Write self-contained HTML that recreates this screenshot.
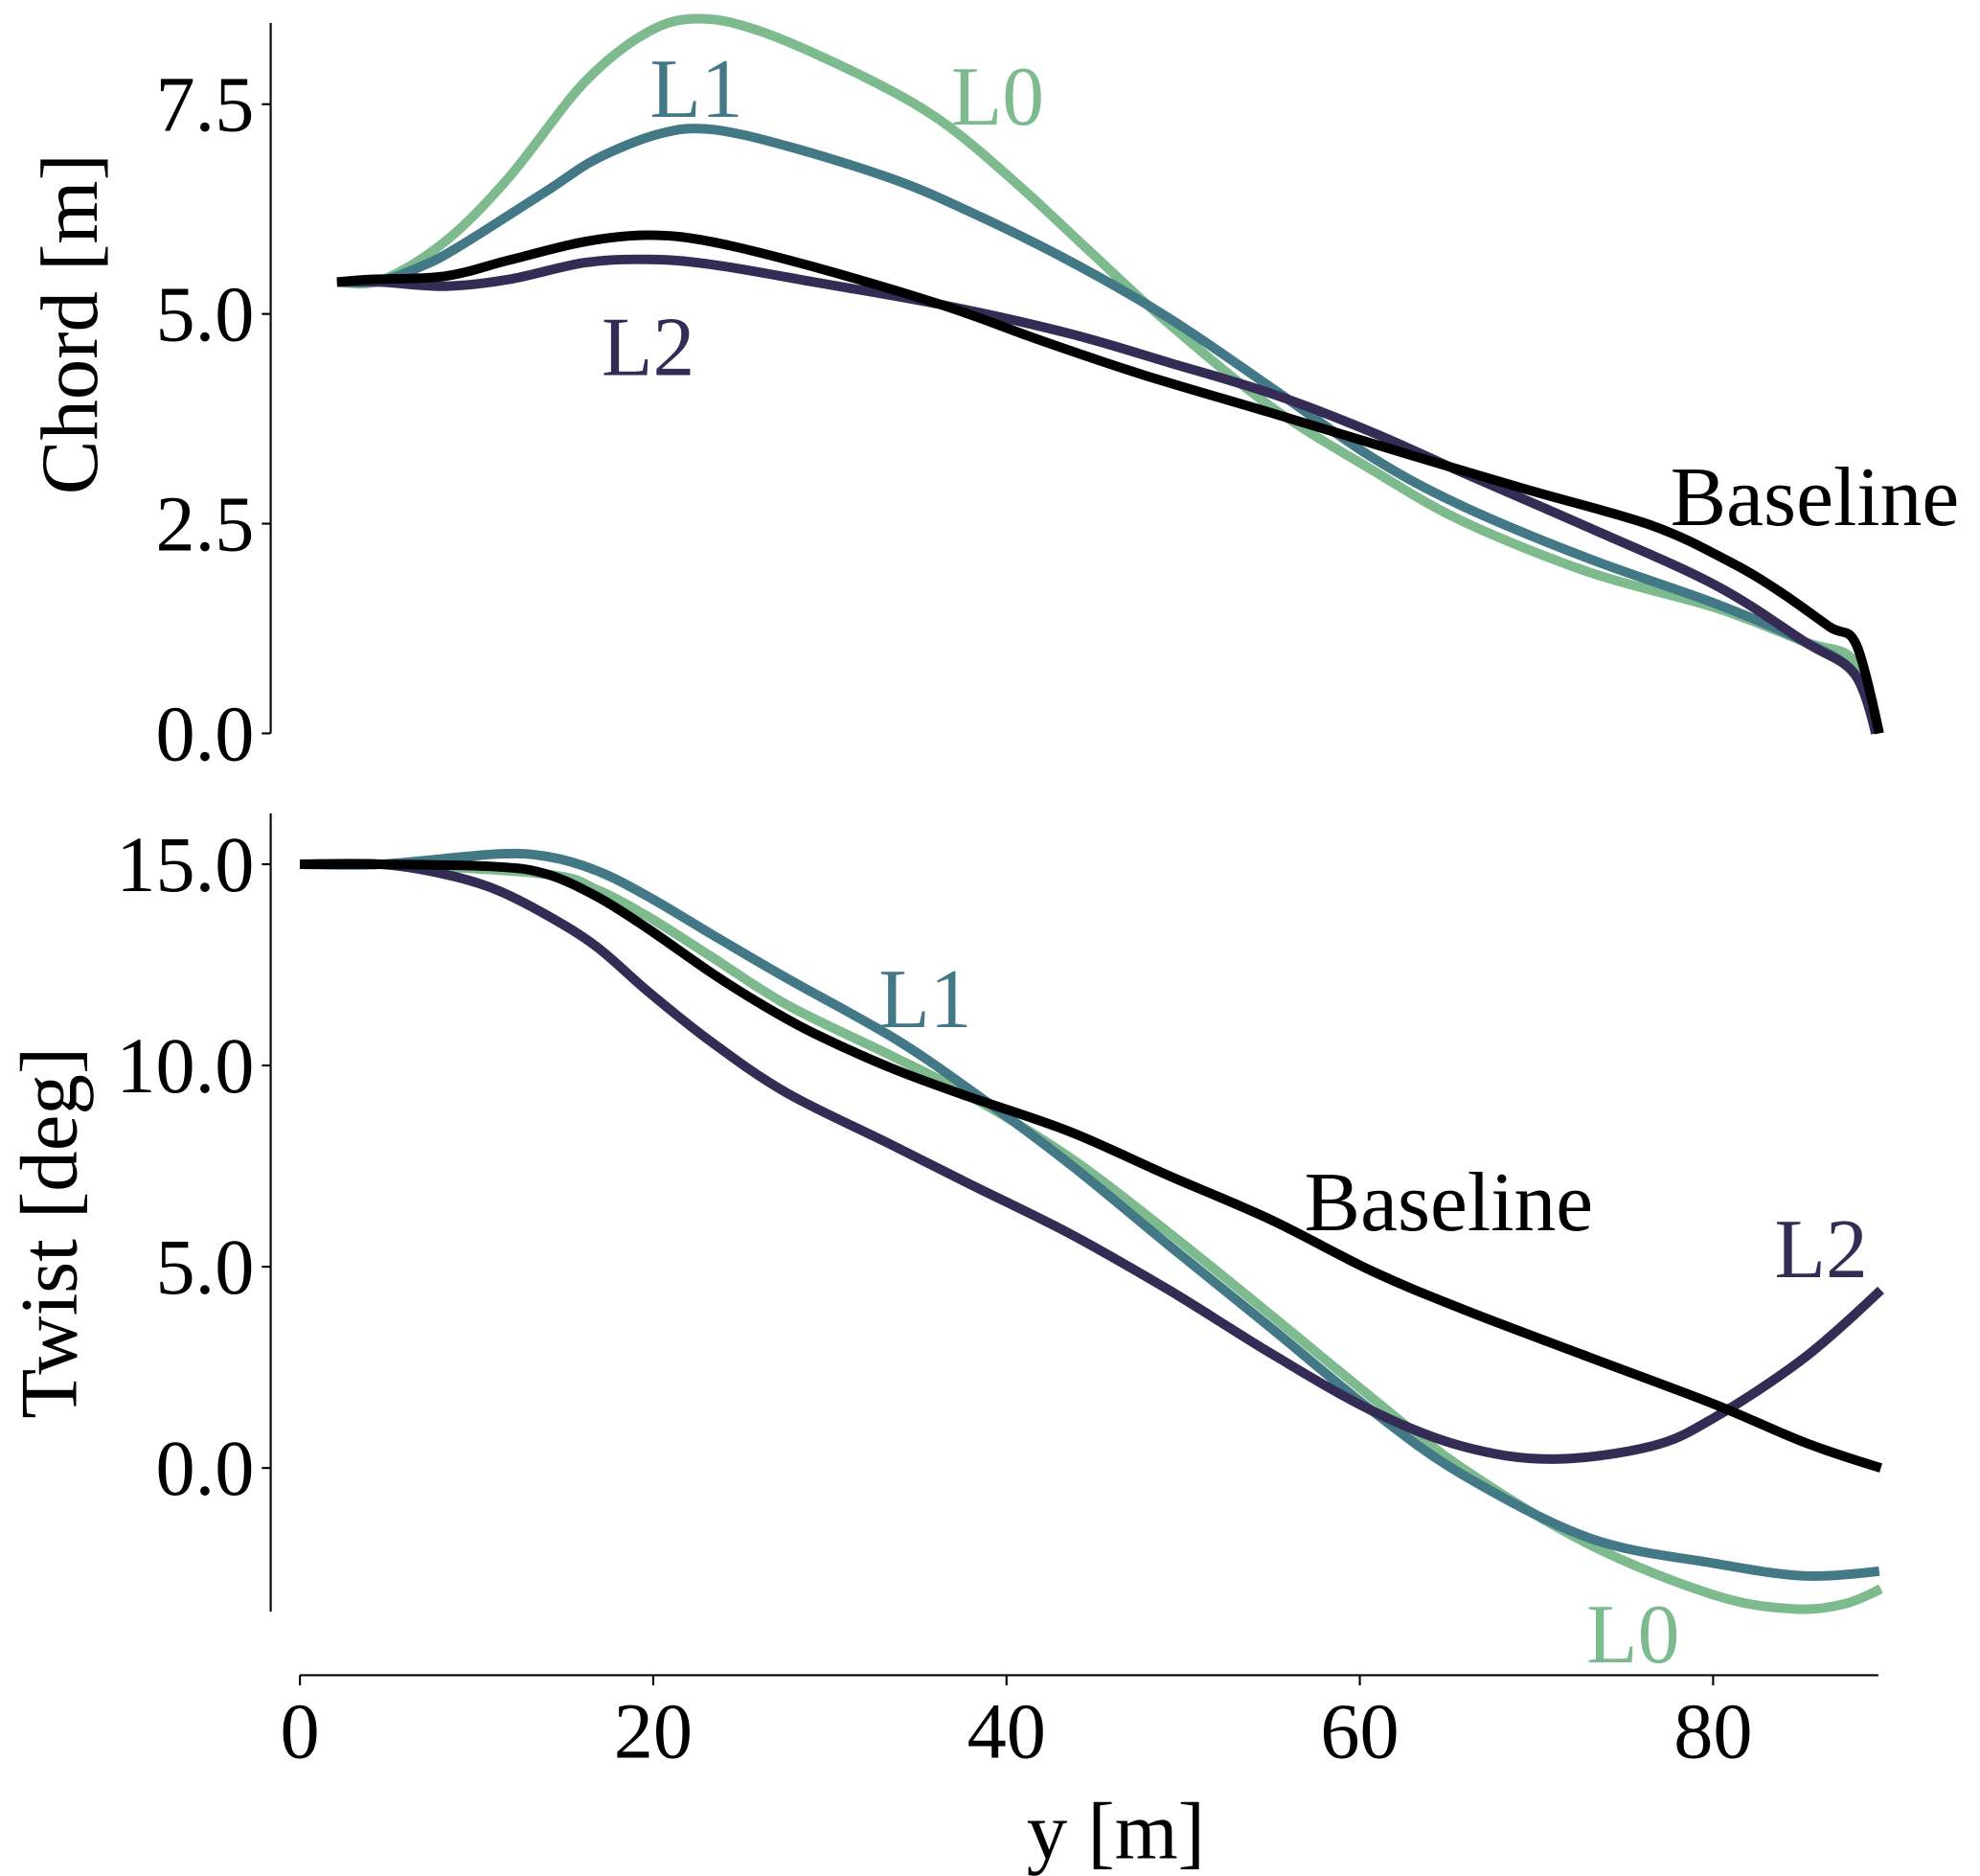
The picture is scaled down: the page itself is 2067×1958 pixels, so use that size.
<!DOCTYPE html>
<html><head><meta charset="utf-8"><style>
html,body{margin:0;padding:0;background:#fff;}
svg{display:block;}
text{font-family:"Liberation Serif",serif;}
</style></head><body>
<svg id="chart" width="2067" height="1958" viewBox="0 0 1558 1476" preserveAspectRatio="none" xmlns="http://www.w3.org/2000/svg">
<g id="axes"></g><g id="lines"></g><g id="labels"></g>
</svg>
<script>
// x ticks
const xTicks = [0, 20, 40, 60, 80];
const chordTicks = [0.0, 2.5, 5.0, 7.5];
const chordTickLabels = ["0.0", "2.5", "5.0", "7.5"];
const twistTicks = [0.0, 5.0, 10.0, 15.0];
const twistTickLabels = ["0.0", "5.0", "10.0", "15.0"];

// Chord series
const chordBaseX = [2.1,3.9,8.2,11.8,16.1,19.7,23.3,29.1,36.3,42.0,47.8,55.0,62.2,69.4,76.5,80.9,83.7,86.6,88.1,89.4];
const chordBaseY = [5.38,5.41,5.45,5.64,5.86,5.94,5.86,5.56,5.11,4.68,4.27,3.82,3.36,2.91,2.48,2.05,1.70,1.27,1.06,0];
const chordL0X = [2.1,4.6,8.2,11.8,16.1,19.7,22.6,26.2,31.9,36.3,40.6,44.9,49.2,55.0,60.7,65.8,73.0,80.1,85.2,88.0,89.4];
const chordL0Y = [5.38,5.40,5.86,6.62,7.76,8.36,8.52,8.36,7.83,7.30,6.55,5.71,4.88,3.89,3.14,2.53,1.92,1.50,1.09,0.86,0];
const chordL1X = [2.1,4.6,6.8,8.9,14.0,16.8,20.4,23.3,27.6,33.4,37.7,43.5,49.2,55.0,60.7,65.8,73.0,80.1,85.2,88.0,89.2];
const chordL1Y = [5.38,5.40,5.56,5.79,6.47,6.85,7.15,7.20,7.00,6.62,6.24,5.64,4.95,4.12,3.29,2.71,2.08,1.55,1.09,0.71,0];
const chordL2X = [2.1,4.6,8.2,11.8,16.1,19.7,23.3,29.1,36.3,43.5,49.2,55.0,60.7,65.8,73.0,80.1,85.2,88.0,89.2];
const chordL2Y = [5.38,5.38,5.33,5.41,5.61,5.65,5.59,5.38,5.11,4.77,4.42,4.05,3.59,3.11,2.45,1.77,1.09,0.71,0];

// Twist series
const twistBaseX = [0,4.6,11.1,14.0,16.8,19.7,23.3,26.2,29.1,33.4,37.7,43.5,49.2,55.0,60.7,65.8,73.0,80.1,85.2,89.5];
const twistBaseY = [15.0,15.0,14.94,14.75,14.2,13.4,12.3,11.5,10.8,9.95,9.25,8.37,7.26,6.16,4.89,3.95,2.75,1.58,0.63,0];
const twistL0X = [0,4.6,14.0,16.8,19.7,23.3,27.6,33.4,37.7,43.5,49.2,55.0,60.7,65.8,73.0,80.1,84.5,87.4,89.5];
const twistL0Y = [15.0,15.0,14.75,14.37,13.7,12.7,11.5,10.26,9.3,7.74,5.84,3.79,1.74,0,-1.9,-3.16,-3.5,-3.38,-3.0];
const twistL1X = [0,4.6,11.1,14.0,16.8,19.7,23.3,27.6,33.4,37.7,43.5,49.2,55.0,60.7,65.8,73.0,80.1,85.2,89.4];
const twistL1Y = [15.0,15.0,15.25,15.19,14.84,14.2,13.26,12.16,10.74,9.47,7.58,5.53,3.47,1.42,-0.16,-1.74,-2.37,-2.68,-2.56];
const twistL2X = [0,4.6,8.2,11.1,14.0,16.8,19.7,23.3,27.6,33.4,37.7,43.5,49.2,55.0,60.7,65.8,70.8,76.5,80.1,85.2,89.5];
const twistL2Y = [15.0,15.0,14.75,14.37,13.73,12.95,11.84,10.58,9.31,8.05,7.1,5.84,4.42,2.84,1.42,0.54,0.22,0.54,1.26,2.75,4.42];

const NS = "http://www.w3.org/2000/svg";
const xs = v => 236 + 13.9 * v;
const ysChord = v => 577 - 66 * v;
const ysTwist = v => 1155 - 31.67 * v;
const C = {L0:"#7dba8e", L1:"#437987", L2:"#352c55", base:"#000"};

function mk(tag, attrs, parent, txt){
  const el = document.createElementNS(NS, tag);
  for (const k in attrs) el.setAttribute(k, attrs[k]);
  if (txt !== undefined) el.textContent = txt;
  parent.appendChild(el);
  return el;
}
const axes = document.getElementById('axes');
const linesG = document.getElementById('lines');
const labelsG = document.getElementById('labels');

let el = mk('line',{x1:213,y1:18,x2:213,y2:577,stroke:'#000','stroke-width':1.6},axes);


chordTicks.forEach((t,i)=>{
  const y = ysChord(t);
  let tk = mk('line',{x1:206,y1:y,x2:213,y2:y,stroke:'#000','stroke-width':1.6},axes);
  
  
  let tl = mk('text',{x:200,y:y+21,'font-size':62,'text-anchor':'end'},axes,chordTickLabels[i]);
  
  
});
el = mk('text',{x:0,y:0,'font-size':64,'text-anchor':'middle',transform:'translate(76,255) rotate(-90)'},axes,'Chord [m]');



el = mk('line',{x1:213,y1:640,x2:213,y2:1268,stroke:'#000','stroke-width':1.6},axes);


twistTicks.forEach((t,i)=>{
  const y = ysTwist(t);
  let tk = mk('line',{x1:206,y1:y,x2:213,y2:y,stroke:'#000','stroke-width':1.6},axes);
  
  
  let tl = mk('text',{x:200,y:y+21,'font-size':62,'text-anchor':'end'},axes,twistTickLabels[i]);
  
  
});
el = mk('text',{x:0,y:0,'font-size':64,'text-anchor':'middle',transform:'translate(60,970) rotate(-90)'},axes,'Twist [deg]');



el = mk('line',{x1:236,y1:1318,x2:1478,y2:1318,stroke:'#000','stroke-width':1.6},axes);


xTicks.forEach(t=>{
  const x = xs(t);
  let tk = mk('line',{x1:x,y1:1318,x2:x,y2:1326,stroke:'#000','stroke-width':1.6},axes);
  
  
  let tl = mk('text',{x:x,y:1383,'font-size':62,'text-anchor':'middle'},axes,String(t));
  
  
});
el = mk('text',{x:878,y:1462,'font-size':64,'text-anchor':'middle'},axes,'y [m]');



function path(xa, ya, ys, color, name){
  const P = xa.map((x,i)=>[xs(x), ys(ya[i])]);
  let d = 'M'+P[0][0].toFixed(1)+','+P[0][1].toFixed(1);
  for (let i=0;i<P.length-1;i++){
    const p0=P[Math.max(0,i-1)], p1=P[i], p2=P[i+1], p3=P[Math.min(P.length-1,i+2)];
    const t = (i===P.length-2) ? 0 : 1/6;
    const c1=[p1[0]+(p2[0]-p0[0])/6, p1[1]+(p2[1]-p0[1])/6];
    const c2=[p2[0]-(p3[0]-p1[0])*t, p2[1]-(p3[1]-p1[1])*t];
    d += ' C'+c1[0].toFixed(1)+','+c1[1].toFixed(1)+' '+c2[0].toFixed(1)+','+c2[1].toFixed(1)+' '+p2[0].toFixed(1)+','+p2[1].toFixed(1);
  }
  const p = mk('path',{d:d,fill:'none',stroke:color,'stroke-width':7.5,'stroke-linejoin':'round'},linesG);
  
  
}
path(chordL0X, chordL0Y, ysChord, C.L0, 'chord-l0-line');
path(chordL1X, chordL1Y, ysChord, C.L1, 'chord-l1-line');
path(chordL2X, chordL2Y, ysChord, C.L2, 'chord-l2-line');
path(chordBaseX, chordBaseY, ysChord, C.base, 'chord-baseline-line');
path(twistL0X, twistL0Y, ysTwist, C.L0, 'twist-l0-line');
path(twistL1X, twistL1Y, ysTwist, C.L1, 'twist-l1-line');
path(twistL2X, twistL2Y, ysTwist, C.L2, 'twist-l2-line');
path(twistBaseX, twistBaseY, ysTwist, C.base, 'twist-baseline-line');

function lab(x,y,txt,color,name){
  const t = mk('text',{x:x,y:y,'font-size':66,'text-anchor':'middle',fill:color},labelsG,txt);
  
  
}
lab(548,92,'L1',C.L1,'chord-l1-label');
lab(785,98,'L0',C.L0,'chord-l0-label');
lab(510,295,'L2',C.L2,'chord-l2-label');
lab(1428,413,'Baseline',C.base,'chord-baseline-label');
lab(728,808,'L1',C.L1,'twist-l1-label');
lab(1140,968,'Baseline',C.base,'twist-baseline-label');
lab(1433,1005,'L2',C.L2,'twist-l2-label');
lab(1285,1308,'L0',C.L0,'twist-l0-label');
</script>
</body></html>
